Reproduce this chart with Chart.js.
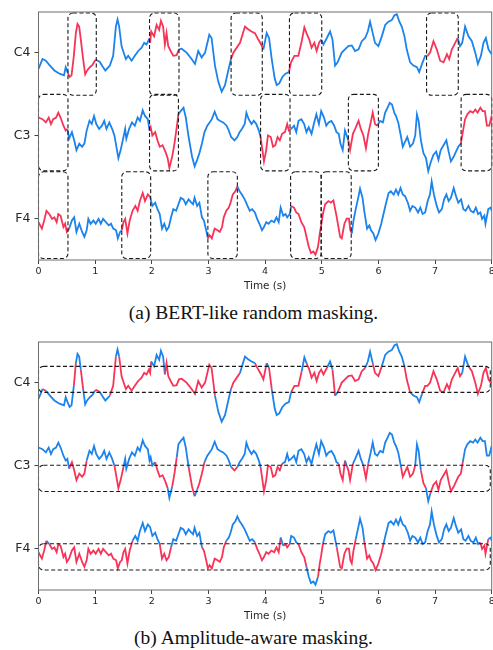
<!DOCTYPE html>
<html>
<head>
<meta charset="utf-8">
<script src="https://cdn.jsdelivr.net/npm/chart.js@4.4.1/dist/chart.umd.min.js"></script>
<style>
  html, body { margin: 0; padding: 0; background: #fff; }
  body { width: 493px; height: 650px; position: relative; overflow: hidden; }
  canvas { position: absolute; left: 0; }
  #graficoA { top: 0; }
  #graficoB { top: 330px; }
  .leyenda { position: absolute; left: 0; width: 507px; text-align: center; font-family: "Liberation Serif", "Times New Roman", serif; font-size: 19.5px; line-height: 20px; color: #111; white-space: nowrap; }
</style>
</head>
<body>
<canvas id="graficoA" width="493" height="294"></canvas>
<div class="leyenda" style="top:303px">(a) BERT-like random masking.</div>
<canvas id="graficoB" width="493" height="294"></canvas>
<div class="leyenda" style="top:628px">(b) Amplitude-aware masking.</div>
<script>
const canales = ['C4', 'C3', 'F4'];
const offsets = [170, 85.5, 0];
const xTicks = [0, 1, 2, 3, 4, 5, 6, 7, 8];

// señales (tiempo en s, amplitud relativa al canal)
const c4Tiempo = [0, 0.07, 0.13, 0.19, 0.28, 0.37, 0.45, 0.48, 0.52, 0.55, 0.583, 0.624, 0.659, 0.688, 0.718, 0.747, 0.788, 0.824, 0.859, 0.906, 0.953, 0.995, 1.02, 1.08, 1.14, 1.18, 1.26, 1.318, 1.366, 1.395, 1.424, 1.466, 1.513, 1.543, 1.584, 1.643, 1.70, 1.76, 1.82, 1.866, 1.907, 1.949, 1.97, 1.99, 2.04, 2.085, 2.13, 2.161, 2.20, 2.231, 2.26, 2.29, 2.332, 2.38, 2.438, 2.479, 2.527, 2.614, 2.703, 2.762, 2.82, 2.88, 2.94, 3.015, 3.055, 3.115, 3.174, 3.233, 3.292, 3.35, 3.398, 3.44, 3.557, 3.645, 3.70, 3.76, 3.82, 3.88, 3.93, 3.97, 4.028, 4.07, 4.117, 4.17, 4.205, 4.25, 4.305, 4.36, 4.42, 4.458, 4.517, 4.587, 4.646, 4.693, 4.73, 4.78, 4.82, 4.87, 4.91, 4.952, 4.99, 5.03, 5.09, 5.147, 5.19, 5.235, 5.28, 5.353, 5.41, 5.47, 5.53, 5.588, 5.65, 5.707, 5.766, 5.813, 5.853, 5.90, 5.94, 6.0, 6.06, 6.12, 6.177, 6.236, 6.283, 6.325, 6.37, 6.413, 6.46, 6.50, 6.56, 6.618, 6.68, 6.72, 6.77, 6.825, 6.866, 6.913, 6.972, 7.03, 7.09, 7.15, 7.21, 7.25, 7.297, 7.356, 7.40, 7.44, 7.48, 7.53, 7.59, 7.65, 7.71, 7.756, 7.81, 7.855, 7.897, 7.943, 8.0];
const c4Valor = [-16.3, -6.3, -8, -12.3, -18, -21.3, -23, -14.7, -20.7, -24.7, -23, -3, 20.3, 29.7, 27, 13.7, -6.3, -22, -18, -14.7, -12.3, -8, -7.3, -9, -14.7, -18, -13, -3, 27, 34.3, 27, 7, -1.3, -6.3, -3, -8, -3, 2, 5.3, 10.3, 8.7, 13.7, 10.3, 22, 17, 28.7, 23.7, 33, 27, 8.7, 20.3, 7, 2, -3, -2.3, 3.7, 4.3, 0.3, -6.3, -11.3, 2, -4.7, 0.3, 18.7, 15.3, -13, -29.7, -39.7, -33, -18, -6.3, 0.3, 10.3, 27, 24.3, 22, 20.3, 13.7, 8.7, 3.7, 20.3, 15.3, -6.3, -26.3, -33, -31.3, -24.7, -21.3, -19.7, -9.7, -3, -3, 12, 26.3, 20.3, 13.7, 5.3, 10.3, 2, 10.3, 13.7, 8.7, 15.3, 22, 13.7, -13, -9.7, 0.3, 3.7, 7, 7.7, 2, 3.7, 12, 15.3, 22, 32, 20.3, 10.3, 7, 17, 28.7, 32, 33.7, 38.7, 39.7, 32, 27, 17, 3.7, -9.7, -13, -14.7, -19.7, -11.3, -3, -3, 0.3, 12, 3.7, -8, -9.7, -1.3, -6.3, 3.7, 10.3, 15.3, 7, 10.3, 27, 17, 12, 0.3, -11.3, -3, 10.3, 15.3, 3.7, -1.3];

const c3Tiempo = [0, 0.07, 0.13, 0.18, 0.22, 0.26, 0.31, 0.35, 0.39, 0.44, 0.48, 0.51, 0.54, 0.59, 0.63, 0.67, 0.72, 0.77, 0.81, 0.85, 0.90, 0.94, 0.98, 1.02, 1.07, 1.12, 1.16, 1.20, 1.25, 1.30, 1.34, 1.38, 1.41, 1.45, 1.50, 1.53, 1.55, 1.60, 1.65, 1.70, 1.75, 1.79, 1.84, 1.88, 1.93, 1.96, 1.98, 2.01, 2.06, 2.10, 2.14, 2.19, 2.24, 2.28, 2.31, 2.36, 2.40, 2.44, 2.47, 2.51, 2.56, 2.60, 2.65, 2.71, 2.756, 2.80, 2.84, 2.885, 2.93, 2.98, 3.02, 3.06, 3.11, 3.16, 3.20, 3.26, 3.32, 3.36, 3.40, 3.46, 3.51, 3.55, 3.59, 3.64, 3.67, 3.71, 3.76, 3.80, 3.845, 3.89, 3.92, 3.945, 3.98, 4.02, 4.05, 4.10, 4.14, 4.18, 4.22, 4.26, 4.30, 4.35, 4.39, 4.42, 4.46, 4.51, 4.55, 4.59, 4.64, 4.69, 4.73, 4.77, 4.82, 4.86, 4.905, 4.95, 4.99, 5.04, 5.08, 5.12, 5.17, 5.22, 5.26, 5.30, 5.33, 5.37, 5.41, 5.44, 5.47, 5.50, 5.55, 5.59, 5.65, 5.69, 5.735, 5.78, 5.82, 5.865, 5.90, 5.94, 5.98, 6.03, 6.08, 6.12, 6.16, 6.20, 6.24, 6.28, 6.31, 6.35, 6.40, 6.43, 6.47, 6.51, 6.56, 6.61, 6.65, 6.68, 6.71, 6.75, 6.795, 6.84, 6.88, 6.92, 6.97, 7.02, 7.06, 7.10, 7.15, 7.20, 7.24, 7.28, 7.33, 7.37, 7.41, 7.455, 7.49, 7.53, 7.57, 7.62, 7.67, 7.71, 7.75, 7.80, 7.84, 7.88, 7.915, 7.956, 8.0];
const c3Valor = [18.2, 16.5, 13.2, 18.2, 11.5, 16.5, 18.2, 23.2, 18.2, 9.8, 4.8, 6.5, -3.5, 3.2, -5.2, -15.2, -8.5, -11.8, -8.5, 4.8, 14.8, 11.5, 19.8, 11.5, 6.5, 9.8, 14.8, 6.5, 13.2, 6.5, -0.2, -13.5, -23.5, -15.2, -1.8, 6.5, -3.5, 6.5, 13.2, 9.8, 18.2, 14.8, 25.5, 19.8, 16.5, 4.8, 8.2, -0.2, 3.2, -5.2, -11.8, -10.2, -16.8, -23.5, -33.5, -21.8, -8.5, 8.2, 21.5, 24.8, 28.2, 18.2, -1.8, -21.8, -31.8, -25.2, -18.5, -8.5, 3.2, 9.8, 13.2, 16.5, 24.2, 16.5, 14.8, 13.2, 9.8, 4.8, -1.8, -5.2, -1.8, 3.2, 6.5, 11.5, 23.2, 16.5, 11.5, 14.8, 11.5, 4.8, -1.8, -11.8, -26.8, -15.2, -0.2, -1.8, -11.8, -10.2, -1.8, -5.2, 1.5, 3.2, 11.5, 4.8, 6.5, 9.8, 3.2, 14.8, 16.5, 11.5, 3.2, 8.2, 1.5, 11.5, 21.5, 11.5, 24.8, 18.2, 9.8, 13.2, 14.8, 9.8, 3.2, 1.5, -8.5, -15.2, 4.8, -0.2, -5.2, -15.2, 1.5, 6.5, 14.8, 6.5, -0.2, -13.5, 1.5, 13.2, 23.2, 11.5, 9.8, 14.8, 13.2, 23.2, 28.2, 33.2, 31.5, 23.2, 19.8, 13.2, -1.8, -11.8, -6.8, -1.8, -11.8, -8.5, -0.2, 21.5, 14.8, -5.2, -18.5, -23.5, -36.8, -28.5, -20.2, -16.8, -25.2, -15.2, -10.2, -5.2, -16.8, -26.8, -21.8, -16.8, -11.8, -8.5, 3.2, 16.5, 21.5, 24.8, 23.2, 26.5, 23.2, 28.2, 24.8, 24.8, 9.8, 9.8, 19.8];

const f4Tiempo = [0, 0.06, 0.10, 0.14, 0.19, 0.24, 0.28, 0.32, 0.35, 0.39, 0.44, 0.47, 0.50, 0.54, 0.59, 0.63, 0.67, 0.72, 0.77, 0.81, 0.85, 0.88, 0.92, 0.97, 1.01, 1.06, 1.10, 1.14, 1.19, 1.24, 1.28, 1.32, 1.37, 1.40, 1.44, 1.47, 1.50, 1.53, 1.57, 1.61, 1.66, 1.71, 1.75, 1.79, 1.84, 1.88, 1.93, 1.97, 2.01, 2.06, 2.10, 2.14, 2.18, 2.22, 2.26, 2.30, 2.34, 2.38, 2.43, 2.47, 2.51, 2.56, 2.60, 2.65, 2.69, 2.73, 2.755, 2.80, 2.84, 2.885, 2.92, 2.96, 2.99, 3.02, 3.06, 3.11, 3.16, 3.20, 3.24, 3.27, 3.315, 3.36, 3.39, 3.43, 3.475, 3.51, 3.55, 3.59, 3.64, 3.69, 3.73, 3.77, 3.82, 3.86, 3.90, 3.945, 3.98, 4.02, 4.06, 4.11, 4.16, 4.20, 4.24, 4.275, 4.32, 4.36, 4.39, 4.435, 4.46, 4.51, 4.55, 4.59, 4.64, 4.69, 4.73, 4.77, 4.81, 4.85, 4.89, 4.935, 4.965, 4.99, 5.02, 5.06, 5.117, 5.16, 5.206, 5.265, 5.324, 5.353, 5.40, 5.44, 5.48, 5.505, 5.53, 5.56, 5.60, 5.65, 5.676, 5.72, 5.75, 5.80, 5.84, 5.87, 5.91, 5.95, 6.00, 6.05, 6.09, 6.13, 6.18, 6.22, 6.27, 6.31, 6.35, 6.39, 6.43, 6.47, 6.52, 6.56, 6.60, 6.65, 6.70, 6.74, 6.78, 6.825, 6.87, 6.91, 6.94, 6.98, 7.03, 7.07, 7.12, 7.16, 7.20, 7.24, 7.28, 7.33, 7.37, 7.41, 7.46, 7.50, 7.54, 7.59, 7.63, 7.68, 7.72, 7.76, 7.80, 7.83, 7.87, 7.89, 7.94, 7.98, 8.0];
const f4Valor = [-3.7, -10.3, -2, 8, 4.7, -0.3, 1.3, -3.7, 4.7, 3, -8.7, -5.3, -13.7, -10.3, -2, 1.3, -13.7, -5.3, -13.7, -18.7, -12, -0.3, -5.3, -2, -5.3, -0.3, -5.3, -0.3, -3.7, -7, -5.3, -10.3, -12, -20.3, -13.7, -12, -3.7, -0.3, -15.3, -2, 8, 13, 8, 18, 26.3, 18, 24.7, 22, 13, 16.3, 9.7, 4.7, -10.3, -5.3, -12, -8.7, 1.3, 9.7, 8, 14.7, 21.3, 19.7, 14.7, 19.7, 17, 14.7, 21.3, 13, 16.3, 1.3, -2, -12, -20.3, -17, -20.3, -10.3, -12, -13.7, -8.7, 1.3, 8, 11.3, 16.3, 24.7, 28, 33, 28, 24.7, 19.7, 13, 8, 9.7, 6.3, -0.3, -5.3, -12, -8.7, -3.7, -5.3, -2, -3.7, 1.3, -3.7, 11.3, 3, 4.7, 1.3, 4.7, 13, 11.3, 6.3, 4.7, -3.7, -8.7, -18.7, -28.7, -35.3, -33.7, -37, -28.7, -15.3, -7, 4.7, 14.7, 18, 16.3, 18.7, 1.3, -18.7, -20.3, -5.3, 0, 0, -12, -15.3, -2, 9.7, 23, 30.7, 21.3, 8, -10.3, -7, -12, -15.3, -22, -15.3, -5.3, 4.7, 14.7, 26.3, 28, 24.7, 29.7, 24.7, 31.3, 24.7, 23, 16.3, 8, 13, 11.3, 6.3, 11.3, 4.7, 6.3, 18, 24.7, 38, 24.7, 13, 6.3, 9.7, 19.7, 24.7, 18, 21.3, 31.3, 23, 16.3, 19.7, 9.7, 8, 13, 8, 6.3, 11.3, 4.7, 6.3, -0.3, 3, -5.3, 9.7, 11.3, 8];

// (a) ventanas enmascaradas por canal [inicio, fin] en s
const c4Ventanas = [[0.52, 1.02], [1.96, 2.48], [3.40, 3.95], [4.43, 5.0], [6.85, 7.41]];
const c3Ventanas = [[0.0, 0.52], [1.96, 2.47], [3.92, 4.44], [5.47, 6.0], [7.46, 8.0]];
const f4Ventanas = [[0.0, 0.52], [1.47, 1.98], [2.99, 3.51], [4.45, 4.99], [4.99, 5.52]];
const cajaLimites = [[41, -43.5], [42, -36.5], [48, -41]];
// (b) bandas de amplitud por canal [arriba, abajo]
const bandas = [[17, -9.7], [0, -27], [5, -22]];
const bandaTiempo = [0.0, 7.975];

const AZUL = 'rgb(28,131,236)';
const ROJO = 'rgb(247,52,88)';
const GRIS = '#262626';

const senales = [[c4Tiempo, c4Valor], [c3Tiempo, c3Valor], [f4Tiempo, f4Valor]];
const ventanas = [c4Ventanas, c3Ventanas, f4Ventanas];

function puntos(i) {
    const [t, v] = senales[i];
    return t.map((x, k) => ({ x: x, y: offsets[i] + v[k] }));
}

const cajasPlugin = {
    id: 'cajas',
    afterDatasetsDraw(chart, args, opts) {
        const ctx = chart.ctx;
        const sx = chart.scales.x, sy = chart.scales.y;
        ctx.save();
        ctx.setLineDash([4, 2.5]);
        ctx.lineWidth = 1.1;
        ctx.strokeStyle = '#1a1a1a';
        for (const c of opts.lista) {
            const l = sx.getPixelForValue(c.x0), r = sx.getPixelForValue(c.x1);
            const t = sy.getPixelForValue(c.y0), b = sy.getPixelForValue(c.y1);
            ctx.beginPath();
            ctx.roundRect(l, t, r - l, b - t, 5);
            ctx.stroke();
        }
        ctx.setLineDash([]);
        ctx.lineWidth = 1;
        ctx.strokeStyle = '#6e6e6e';
        const a = chart.chartArea;
        ctx.strokeRect(a.left, a.top + 0.5, a.right - a.left, a.bottom - a.top - 0.5);
        ctx.restore();
    }
};

function opciones(cajas) {
    return {
        responsive: false,
        animation: false,
        devicePixelRatio: 1,
        layout: { padding: { top: 5, right: 1.3, left: 0, bottom: 0 } },
        plugins: {
            legend: { display: false },
            tooltip: { enabled: false },
            cajas: { lista: cajas }
        },
        scales: {
            x: {
                type: 'linear', min: 0, max: 8,
                afterBuildTicks: s => { s.ticks = xTicks.map(v => ({ value: v })); },
                afterFit: s => { s.height = 34; s.paddingLeft = 0; s.paddingRight = 0; },
                ticks: { font: { family: 'DejaVu Sans', size: 9.5 }, color: GRIS, padding: 2, maxRotation: 0, autoSkip: false },
                grid: { drawOnChartArea: false, tickLength: 4, color: '#444', lineWidth: 1 },
                border: { display: false },
                title: { display: true, text: 'Time (s)', font: { family: 'DejaVu Sans', size: 10.4 }, color: GRIS, padding: { top: 0, bottom: 1 } }
            },
            y: {
                min: -42.5, max: 212.5,
                afterBuildTicks: s => { s.ticks = offsets.map(v => ({ value: v })); },
                afterFit: s => { s.width = 38.5; },
                ticks: { callback: v => canales[offsets.indexOf(v)], font: { family: 'DejaVu Sans', size: 12.5 }, color: GRIS, padding: 4, autoSkip: false },
                grid: { drawOnChartArea: false, tickLength: 4, color: '#444', lineWidth: 1 },
                border: { display: false }
            }
        }
    };
}

function colorVentana(lista) {
    return c => {
        const xm = (c.p0.parsed.x + c.p1.parsed.x) / 2;
        return lista.some(v => xm >= v[0] && xm <= v[1]) ? ROJO : AZUL;
    };
}
function colorBanda(banda, off) {
    return c => {
        const ym = (c.p0.parsed.y + c.p1.parsed.y) / 2 - off;
        return (ym <= banda[0] && ym >= banda[1]) ? ROJO : AZUL;
    };
}

// grafico (a)
let datasetsA = [];
let cajasA = [];
for (let i = 0; i < canales.length; i++) {
    datasetsA.push({
        data: puntos(i), borderColor: AZUL, borderWidth: 1.8, pointRadius: 0, tension: 0,
        segment: { borderColor: colorVentana(ventanas[i]) }
    });
    for (const v of ventanas[i]) {
        cajasA.push({ x0: v[0], x1: v[1], y0: offsets[i] + cajaLimites[i][0], y1: offsets[i] + cajaLimites[i][1] });
    }
}
new Chart(document.getElementById('graficoA'), {
    type: 'line',
    data: { datasets: datasetsA },
    options: opciones(cajasA),
    plugins: [cajasPlugin]
});

// grafico (b)
let datasetsB = [];
let cajasB = [];
for (let i = 0; i < canales.length; i++) {
    datasetsB.push({
        data: puntos(i), borderColor: AZUL, borderWidth: 1.8, pointRadius: 0, tension: 0,
        segment: { borderColor: colorBanda(bandas[i], offsets[i]) }
    });
    cajasB.push({ x0: bandaTiempo[0], x1: bandaTiempo[1], y0: offsets[i] + bandas[i][0], y1: offsets[i] + bandas[i][1] });
}
new Chart(document.getElementById('graficoB'), {
    type: 'line',
    data: { datasets: datasetsB },
    options: opciones(cajasB),
    plugins: [cajasPlugin]
});
</script>
</body>
</html>
